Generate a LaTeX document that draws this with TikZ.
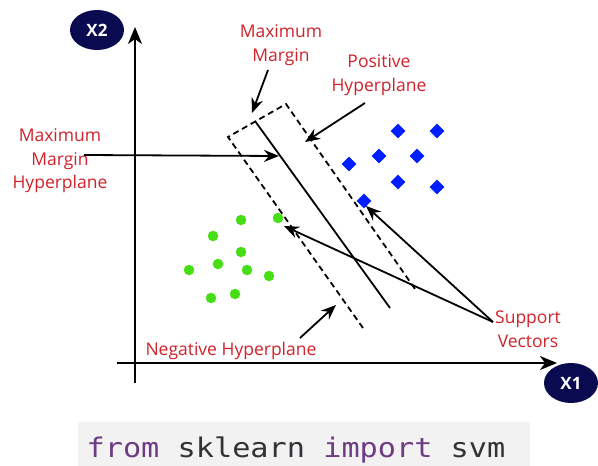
\documentclass[tikz,border=0pt]{standalone}
\usepackage{fontspec}
\setmainfont{Open Sans}
\newfontfamily\codefont[FakeStretch=1.12]{DejaVu Sans Mono}
\usetikzlibrary{arrows.meta,shapes.geometric}
\definecolor{lblred}{RGB}{208,34,42}
\definecolor{ptgreen}{RGB}{70,222,20}
\definecolor{ptblue}{RGB}{0,30,255}
\definecolor{navy}{RGB}{10,10,80}
\definecolor{codebg}{RGB}{242,242,242}
\definecolor{kwpurple}{RGB}{110,60,130}
\definecolor{codedark}{RGB}{50,50,55}
\tikzset{
  axislabel/.style={ellipse, fill=navy, text=white, font=\fontsize{17}{17}\selectfont\bfseries, minimum width=54pt, minimum height=40pt, inner sep=0pt},
  lbl/.style={text=lblred, font=\fontsize{17.5}{23.5}\selectfont, align=center, inner sep=0pt},
  axisline/.style={line width=2pt, -{Stealth[length=17pt,width=14pt,inset=5pt]}},
  ptr/.style={line width=1.8pt, -{Stealth[length=15pt,width=12pt,inset=5pt]}},
  bandline/.style={line width=1.8pt, dash pattern=on 6pt off 4pt},
  hyper/.style={line width=1.8pt},
  gdot/.style={circle, fill=ptgreen, minimum size=10.5pt, inner sep=0pt},
  bdiam/.style={diamond, fill=ptblue, minimum size=15pt, inner sep=0pt},
}
\begin{document}
\begin{tikzpicture}[x=1pt,y=-1pt]
\useasboundingbox (0,0) rectangle (598,466);
% code box
\fill[codebg] (78,422) rectangle (530,466);
\node[anchor=base, inner sep=0pt, font=\codefont\fontsize{27}{27}\selectfont] (code) at (296,457)
  {\textcolor{kwpurple}{from} \textcolor{codedark}{sklearn} \textcolor{kwpurple}{import} \textcolor{codedark}{svm}};
% axes
\coordinate (yb) at (135,383);
\coordinate (yt) at (135,27);
\coordinate (xl) at (117,363);
\coordinate (xr) at (557,363);
\draw[axisline] (yb) -- (yt);
\draw[axisline] (xl) -- (xr);
\node[axislabel] (X2) at (97,30) {X2};
\node[axislabel] (X1) at (571,383) {X1};
% margin band
\coordinate (b1) at (363,328);
\coordinate (b2) at (228,137);
\coordinate (b3) at (286,104);
\coordinate (b4) at (415,289);
\draw[bandline] (b1) -- (b2) -- (b3) -- (b4);
\coordinate (h1) at (255,121);
\coordinate (h2) at (390,308);
\draw[hyper] (h1) -- (h2);
% points
\foreach \x/\y [count=\i] in {241/220,278/218,213/236,241/252,218/264,247/270,189/270,269/276,211/298,235/294}
  \node[gdot] (g\i) at (\x,\y) {};
\foreach \x/\y [count=\i] in {398/131,437/131,379/156,417/156,349/164,398/182,437/187,364/201}
  \node[bdiam] (d\i) at (\x,\y) {};
% labels
\node[lbl] (mm) at (281,45) {Maximum\\Margin};
\node[lbl] (ph) at (379,75) {Positive\\Hyperplane};
\node[lbl] (mmh) at (60,161) {Maximum\\Margin\\Hyperplane};
\node[lbl] (nh) at (231,351) {Negative Hyperplane};
\node[lbl] (sv) at (528,329) {Support\\Vectors};
% arrows
\coordinate (mms) at (268,70);
\coordinate (mmt) at (252,113);
\draw[ptr] (mms) -- (mmt);
\coordinate (phs) at (365,103);
\coordinate (pht) at (305,142);
\draw[ptr] (phs) -- (pht);
\coordinate (mhs) at (84,155);
\coordinate (mht) at (279,156);
\draw[ptr] (mhs) -- (mht);
\coordinate (nhs) at (300,338);
\coordinate (nht) at (336,305);
\draw[ptr] (nhs) -- (nht);
\coordinate (svs) at (493,322);
\coordinate (svg) at (284,226);
\coordinate (svb) at (366,206);
\draw[ptr] (svs) -- (svg);
\draw[ptr] (svs) -- (svb);
\end{tikzpicture}
\end{document}
